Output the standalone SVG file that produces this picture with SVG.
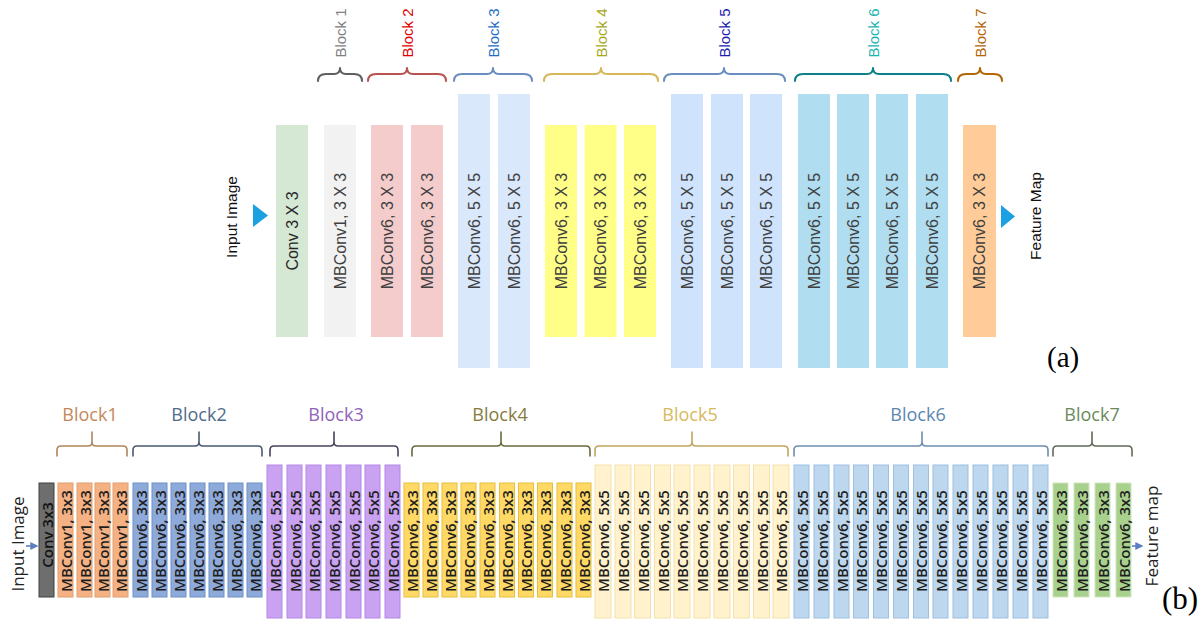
<svg xmlns="http://www.w3.org/2000/svg" width="1203" height="636" viewBox="0 0 1203 636">
<style>
.ta{font-family:"Liberation Sans",Arial,sans-serif;font-size:16px;fill:#404040;text-anchor:middle;dominant-baseline:central}
.la{font-family:"Liberation Sans",Arial,sans-serif;font-size:15px;text-anchor:middle;dominant-baseline:central}
.io{font-family:"Liberation Sans",Arial,sans-serif;font-size:15.5px;fill:#111;text-anchor:middle;dominant-baseline:central}
.br{fill:none;stroke-width:2;stroke-linecap:round;stroke-linejoin:round}
.brb{fill:none;stroke-width:1.6;stroke-linecap:round;stroke-linejoin:round}
.tb{font-family:"Open Sans","Noto Sans",sans-serif;font-size:15px;font-weight:600;fill:#1e1e1e;text-anchor:middle;dominant-baseline:central}
.lb{font-family:"Open Sans","Noto Sans",sans-serif;font-size:18px;text-anchor:middle}
.iob{font-family:"Open Sans","Noto Sans",sans-serif;font-size:17px;fill:#222;text-anchor:middle;dominant-baseline:central}
.cap{font-family:"Liberation Serif","Times New Roman",serif;font-size:29px;fill:#000}
.o1{fill:#f4b183;stroke:#e3a070;stroke-width:1}
.o2{fill:#8eaadb;stroke:#6f8fc9;stroke-width:1}
.o3{fill:#c9a2f2;stroke:#b588e6;stroke-width:1}
.o4{fill:#ffd966;stroke:#e8bf3c;stroke-width:1}
.o5{fill:#fff2cc;stroke:#f3e2ad;stroke-width:1}
.o6{fill:#bdd7ee;stroke:#9dbfe0;stroke-width:1}
.o7{fill:#a9d18e;stroke:#cfe6bd;stroke-width:1}
</style>
<defs>
<marker id="ah" viewBox="0 0 6 6" refX="5" refY="3" markerWidth="5" markerHeight="5" orient="auto">
<path d="M0,0 L6,3 L0,6 z" fill="#5b7fc0"/>
</marker>
</defs>

<!-- ============ (a) ============ -->
<g id="a-input"><text class="io" transform="translate(231,217) rotate(-90)">Input Image</text></g>
<g id="a-output"><text class="io" transform="translate(1035,216) rotate(-90)">Feature Map</text></g>

<g id="a-connectors">
<polygon points="253,204 268,215.5 253,227" fill="#1ba1e2"/>
<polygon points="1001,205 1015,216.5 1001,228" fill="#1ba1e2"/>
</g>

<g id="a-conv"><rect x="276" y="125" width="32" height="212" fill="#d5e8d4"/><text class="ta" style="fill:#262626" transform="translate(292,231) rotate(-90)">Conv 3 X 3</text></g>

<g id="a-block1">
<rect x="324" y="125" width="32" height="212" fill="#f2f2f2"/><text class="ta" transform="translate(340,231) rotate(-90)">MBConv1, 3 X 3</text>
</g>
<g id="a-block2">
<rect x="371" y="125" width="32" height="212" fill="#f4cccc"/><text class="ta" transform="translate(387,231) rotate(-90)">MBConv6, 3 X 3</text>
<rect x="411" y="125" width="32" height="212" fill="#f4cccc"/><text class="ta" transform="translate(427,231) rotate(-90)">MBConv6, 3 X 3</text>
</g>
<g id="a-block3">
<rect x="458" y="94" width="32" height="274" fill="#dae8fc"/><text class="ta" transform="translate(474,231) rotate(-90)">MBConv6, 5 X 5</text>
<rect x="498" y="94" width="32" height="274" fill="#dae8fc"/><text class="ta" transform="translate(514,231) rotate(-90)">MBConv6, 5 X 5</text>
</g>
<g id="a-block4">
<rect x="545" y="125" width="32" height="212" fill="#ffff88"/><text class="ta" transform="translate(561,231) rotate(-90)">MBConv6, 3 X 3</text>
<rect x="584.5" y="125" width="32" height="212" fill="#ffff88"/><text class="ta" transform="translate(600.5,231) rotate(-90)">MBConv6, 3 X 3</text>
<rect x="624" y="125" width="32" height="212" fill="#ffff88"/><text class="ta" transform="translate(640,231) rotate(-90)">MBConv6, 3 X 3</text>
</g>
<g id="a-block5">
<rect x="671" y="94" width="32" height="274" fill="#cfe4fc"/><text class="ta" transform="translate(687,231) rotate(-90)">MBConv6, 5 X 5</text>
<rect x="711" y="94" width="32" height="274" fill="#cfe4fc"/><text class="ta" transform="translate(727,231) rotate(-90)">MBConv6, 5 X 5</text>
<rect x="750" y="94" width="32" height="274" fill="#cfe4fc"/><text class="ta" transform="translate(766,231) rotate(-90)">MBConv6, 5 X 5</text>
</g>
<g id="a-block6">
<rect x="798" y="94" width="32" height="274" fill="#b1ddf0"/><text class="ta" transform="translate(814,231) rotate(-90)">MBConv6, 5 X 5</text>
<rect x="837" y="94" width="32" height="274" fill="#b1ddf0"/><text class="ta" transform="translate(853,231) rotate(-90)">MBConv6, 5 X 5</text>
<rect x="876" y="94" width="32" height="274" fill="#b1ddf0"/><text class="ta" transform="translate(892,231) rotate(-90)">MBConv6, 5 X 5</text>
<rect x="916" y="94" width="32" height="274" fill="#b1ddf0"/><text class="ta" transform="translate(932,231) rotate(-90)">MBConv6, 5 X 5</text>
</g>
<g id="a-block7">
<rect x="963" y="125" width="33" height="212" fill="#ffcc99"/><text class="ta" transform="translate(979.5,231) rotate(-90)">MBConv6, 3 X 3</text>
</g>

<g id="a-braces">
<path class="br" stroke="#5f5f5f" d="M318,81 Q318,74 326,74 L334,74 Q340,74 340,68 Q340,74 346,74 L354,74 Q362,74 362,81"/>
<path class="br" stroke="#b85450" d="M368,81 Q368,74 376,74 L401,74 Q407,74 407,68 Q407,74 413,74 L438,74 Q446,74 446,81"/>
<path class="br" stroke="#6c8ebf" d="M454,81 Q454,74 462,74 L487,74 Q493,74 493,68 Q493,74 499,74 L524,74 Q532,74 532,81"/>
<path class="br" stroke="#d6b656" d="M544,81 Q544,74 552,74 L595,74 Q601,74 601,68 Q601,74 607,74 L650,74 Q658,74 658,81"/>
<path class="br" stroke="#6c8ebf" d="M664,81 Q664,74 672,74 L718,74 Q724,74 724,68 Q724,74 730,74 L777,74 Q785,74 785,81"/>
<path class="br" stroke="#0e8088" d="M795,81 Q795,74 803,74 L867,74 Q873,74 873,68 Q873,74 879,74 L943,74 Q951,74 951,81"/>
<path class="br" stroke="#b46504" d="M958,81 Q958,74 966,74 L974,74 Q980,74 980,68 Q980,74 986,74 L994,74 Q1002,74 1002,81"/>
<text class="la" fill="#808080" transform="translate(340,33) rotate(-90)">Block 1</text>
<text class="la" fill="#e00000" transform="translate(407,33) rotate(-90)">Block 2</text>
<text class="la" fill="#1f6fc4" transform="translate(493,33) rotate(-90)">Block 3</text>
<text class="la" fill="#a8a81a" transform="translate(601,33) rotate(-90)">Block 4</text>
<text class="la" fill="#1c1cae" transform="translate(724,33) rotate(-90)">Block 5</text>
<text class="la" fill="#1cb3b3" transform="translate(873,33) rotate(-90)">Block 6</text>
<text class="la" fill="#b46504" transform="translate(980,33) rotate(-90)">Block 7</text>
</g>
<text class="cap" x="1047" y="367">(a)</text>

<!-- ============ (b) ============ -->
<g id="b-input"><text class="iob" transform="translate(17,544) rotate(-90)">Input Image</text></g>
<g id="b-output"><text class="iob" transform="translate(1151,536) rotate(-90)">Feature map</text></g>

<g id="b-connectors">
<line x1="26" y1="546" x2="37" y2="546" stroke="#5b7fc0" stroke-width="1.6" marker-end="url(#ah)"/>
<line x1="1132" y1="546" x2="1142" y2="546" stroke="#5b7fc0" stroke-width="1.6" marker-end="url(#ah)"/>
</g>

<g id="b-conv"><rect x="39" y="483" width="15" height="114" fill="#6e6e6e" stroke="#404040" stroke-width="1"/><text class="tb" style="fill:#111" transform="translate(46.5,535) rotate(-90)">Conv 3x3</text></g>

<g id="b-block1">
<rect class="o1" x="58" y="483" width="15" height="114"/><text class="tb" transform="translate(65.5,541) rotate(-90)">MBConv1, 3x3</text>
<rect class="o1" x="77" y="483" width="15" height="114"/><text class="tb" transform="translate(84.5,541) rotate(-90)">MBConv1, 3x3</text>
<rect class="o1" x="95" y="483" width="15" height="114"/><text class="tb" transform="translate(102.5,541) rotate(-90)">MBConv1, 3x3</text>
<rect class="o1" x="113" y="483" width="15" height="114"/><text class="tb" transform="translate(120.5,541) rotate(-90)">MBConv1, 3x3</text>
</g>
<g id="b-block2">
<rect class="o2" x="133" y="483" width="15" height="114"/><text class="tb" transform="translate(140.5,541) rotate(-90)">MBConv6, 3x3</text>
<rect class="o2" x="152" y="483" width="15" height="114"/><text class="tb" transform="translate(159.5,541) rotate(-90)">MBConv6, 3x3</text>
<rect class="o2" x="171" y="483" width="15" height="114"/><text class="tb" transform="translate(178.5,541) rotate(-90)">MBConv6, 3x3</text>
<rect class="o2" x="190" y="483" width="15" height="114"/><text class="tb" transform="translate(197.5,541) rotate(-90)">MBConv6, 3x3</text>
<rect class="o2" x="209" y="483" width="15" height="114"/><text class="tb" transform="translate(216.5,541) rotate(-90)">MBConv6, 3x3</text>
<rect class="o2" x="228" y="483" width="15" height="114"/><text class="tb" transform="translate(235.5,541) rotate(-90)">MBConv6, 3x3</text>
<rect class="o2" x="247" y="483" width="15" height="114"/><text class="tb" transform="translate(254.5,541) rotate(-90)">MBConv6, 3x3</text>
</g>
<g id="b-block3">
<rect class="o3" x="267" y="465" width="15" height="153"/><text class="tb" transform="translate(274.5,541) rotate(-90)">MBConv6, 5x5</text>
<rect class="o3" x="287" y="465" width="15" height="153"/><text class="tb" transform="translate(294.5,541) rotate(-90)">MBConv6, 5x5</text>
<rect class="o3" x="306" y="465" width="15" height="153"/><text class="tb" transform="translate(313.5,541) rotate(-90)">MBConv6, 5x5</text>
<rect class="o3" x="326" y="465" width="15" height="153"/><text class="tb" transform="translate(333.5,541) rotate(-90)">MBConv6, 5x5</text>
<rect class="o3" x="346" y="465" width="15" height="153"/><text class="tb" transform="translate(353.5,541) rotate(-90)">MBConv6, 5x5</text>
<rect class="o3" x="365" y="465" width="15" height="153"/><text class="tb" transform="translate(372.5,541) rotate(-90)">MBConv6, 5x5</text>
<rect class="o3" x="385" y="465" width="15" height="153"/><text class="tb" transform="translate(392.5,541) rotate(-90)">MBConv6, 5x5</text>
</g>
<g id="b-block4">
<rect class="o4" x="404" y="483" width="15" height="114"/><text class="tb" transform="translate(411.5,541) rotate(-90)">MBConv6, 3x3</text>
<rect class="o4" x="423" y="483" width="15" height="114"/><text class="tb" transform="translate(430.5,541) rotate(-90)">MBConv6, 3x3</text>
<rect class="o4" x="442" y="483" width="15" height="114"/><text class="tb" transform="translate(449.5,541) rotate(-90)">MBConv6, 3x3</text>
<rect class="o4" x="461" y="483" width="15" height="114"/><text class="tb" transform="translate(468.5,541) rotate(-90)">MBConv6, 3x3</text>
<rect class="o4" x="480" y="483" width="15" height="114"/><text class="tb" transform="translate(487.5,541) rotate(-90)">MBConv6, 3x3</text>
<rect class="o4" x="499.5" y="483" width="15" height="114"/><text class="tb" transform="translate(507,541) rotate(-90)">MBConv6, 3x3</text>
<rect class="o4" x="518.5" y="483" width="15" height="114"/><text class="tb" transform="translate(526,541) rotate(-90)">MBConv6, 3x3</text>
<rect class="o4" x="537.5" y="483" width="15" height="114"/><text class="tb" transform="translate(545,541) rotate(-90)">MBConv6, 3x3</text>
<rect class="o4" x="557" y="483" width="15" height="114"/><text class="tb" transform="translate(564.5,541) rotate(-90)">MBConv6, 3x3</text>
<rect class="o4" x="576" y="483" width="15" height="114"/><text class="tb" transform="translate(583.5,541) rotate(-90)">MBConv6, 3x3</text>
</g>
<g id="b-block5">
<rect class="o5" x="595" y="465" width="16" height="153"/><text class="tb" transform="translate(603,541) rotate(-90)">MBConv6, 5x5</text>
<rect class="o5" x="615" y="465" width="16" height="153"/><text class="tb" transform="translate(623,541) rotate(-90)">MBConv6, 5x5</text>
<rect class="o5" x="634.5" y="465" width="16" height="153"/><text class="tb" transform="translate(642.5,541) rotate(-90)">MBConv6, 5x5</text>
<rect class="o5" x="654.5" y="465" width="16" height="153"/><text class="tb" transform="translate(662.5,541) rotate(-90)">MBConv6, 5x5</text>
<rect class="o5" x="674" y="465" width="16" height="153"/><text class="tb" transform="translate(682,541) rotate(-90)">MBConv6, 5x5</text>
<rect class="o5" x="694" y="465" width="16" height="153"/><text class="tb" transform="translate(702,541) rotate(-90)">MBConv6, 5x5</text>
<rect class="o5" x="714" y="465" width="16" height="153"/><text class="tb" transform="translate(722,541) rotate(-90)">MBConv6, 5x5</text>
<rect class="o5" x="733.5" y="465" width="16" height="153"/><text class="tb" transform="translate(741.5,541) rotate(-90)">MBConv6, 5x5</text>
<rect class="o5" x="753.5" y="465" width="16" height="153"/><text class="tb" transform="translate(761.5,541) rotate(-90)">MBConv6, 5x5</text>
<rect class="o5" x="773" y="465" width="16" height="153"/><text class="tb" transform="translate(781,541) rotate(-90)">MBConv6, 5x5</text>
</g>
<g id="b-block6">
<rect class="o6" x="794" y="465" width="15" height="153"/><text class="tb" transform="translate(801.5,541) rotate(-90)">MBConv6, 5x5</text>
<rect class="o6" x="814" y="465" width="15" height="153"/><text class="tb" transform="translate(821.5,541) rotate(-90)">MBConv6, 5x5</text>
<rect class="o6" x="834" y="465" width="15" height="153"/><text class="tb" transform="translate(841.5,541) rotate(-90)">MBConv6, 5x5</text>
<rect class="o6" x="853.5" y="465" width="15" height="153"/><text class="tb" transform="translate(861,541) rotate(-90)">MBConv6, 5x5</text>
<rect class="o6" x="873.5" y="465" width="15" height="153"/><text class="tb" transform="translate(881,541) rotate(-90)">MBConv6, 5x5</text>
<rect class="o6" x="893.5" y="465" width="15" height="153"/><text class="tb" transform="translate(901,541) rotate(-90)">MBConv6, 5x5</text>
<rect class="o6" x="913.5" y="465" width="15" height="153"/><text class="tb" transform="translate(921,541) rotate(-90)">MBConv6, 5x5</text>
<rect class="o6" x="933" y="465" width="15" height="153"/><text class="tb" transform="translate(940.5,541) rotate(-90)">MBConv6, 5x5</text>
<rect class="o6" x="953" y="465" width="15" height="153"/><text class="tb" transform="translate(960.5,541) rotate(-90)">MBConv6, 5x5</text>
<rect class="o6" x="973" y="465" width="15" height="153"/><text class="tb" transform="translate(980.5,541) rotate(-90)">MBConv6, 5x5</text>
<rect class="o6" x="993" y="465" width="15" height="153"/><text class="tb" transform="translate(1000.5,541) rotate(-90)">MBConv6, 5x5</text>
<rect class="o6" x="1013" y="465" width="15" height="153"/><text class="tb" transform="translate(1020.5,541) rotate(-90)">MBConv6, 5x5</text>
<rect class="o6" x="1033" y="465" width="15" height="153"/><text class="tb" transform="translate(1040.5,541) rotate(-90)">MBConv6, 5x5</text>
</g>
<g id="b-block7">
<rect class="o7" x="1053" y="483" width="15" height="114"/><text class="tb" transform="translate(1060.5,541) rotate(-90)">MBConv6, 3x3</text>
<rect class="o7" x="1074" y="483" width="15" height="114"/><text class="tb" transform="translate(1081.5,541) rotate(-90)">MBConv6, 3x3</text>
<rect class="o7" x="1095" y="483" width="15" height="114"/><text class="tb" transform="translate(1102.5,541) rotate(-90)">MBConv6, 3x3</text>
<rect class="o7" x="1116" y="483" width="15" height="114"/><text class="tb" transform="translate(1123.5,541) rotate(-90)">MBConv6, 3x3</text>
</g>

<g id="b-braces">
<path class="brb" stroke="#b0845a" d="M57,456 L57,450 Q57,446 61,446 L88,446 Q92,446 92,442 L92,432 M92,442 Q92,446 96,446 L123,446 Q127,446 127,450 L127,456"/>
<path class="brb" stroke="#4a5a70" d="M133,456 L133,450 Q133,446 137,446 L195,446 Q199,446 199,442 L199,432 M199,442 Q199,446 203,446 L258,446 Q262,446 262,450 L262,456"/>
<path class="brb" stroke="#45455c" d="M270,456 L270,450 Q270,446 274,446 L330,446 Q334,446 334,442 L334,432 M334,442 Q334,446 338,446 L394,446 Q398,446 398,450 L398,456"/>
<path class="brb" stroke="#6b6a3c" d="M412,456 L412,450 Q412,446 416,446 L497,446 Q501,446 501,442 L501,432 M501,442 Q501,446 505,446 L586,446 Q590,446 590,450 L590,456"/>
<path class="brb" stroke="#c2a55c" d="M595,456 L595,450 Q595,446 599,446 L688,446 Q692,446 692,442 L692,432 M692,442 Q692,446 696,446 L784,446 Q788,446 788,450 L788,456"/>
<path class="brb" stroke="#6d8db0" d="M794,456 L794,450 Q794,446 798,446 L918,446 Q922,446 922,442 L922,432 M922,442 Q922,446 926,446 L1044,446 Q1048,446 1048,450 L1048,456"/>
<path class="brb" stroke="#60695a" d="M1053,456 L1053,450 Q1053,446 1057,446 L1088,446 Q1092,446 1092,442 L1092,432 M1092,442 Q1092,446 1096,446 L1128,446 Q1132,446 1132,450 L1132,456"/>
<text class="lb" fill="#c5875a" x="90" y="421">Block1</text>
<text class="lb" fill="#4f6b8a" x="199" y="421">Block2</text>
<text class="lb" fill="#8e63b8" x="336" y="421">Block3</text>
<text class="lb" fill="#857b3e" x="500" y="421">Block4</text>
<text class="lb" fill="#d6b960" x="690" y="421">Block5</text>
<text class="lb" fill="#5b87b0" x="918" y="421">Block6</text>
<text class="lb" fill="#6b8a5b" x="1092" y="421">Block7</text>
</g>
<text class="cap" x="1162" y="609" style="font-size:31px">(b)</text>
</svg>
